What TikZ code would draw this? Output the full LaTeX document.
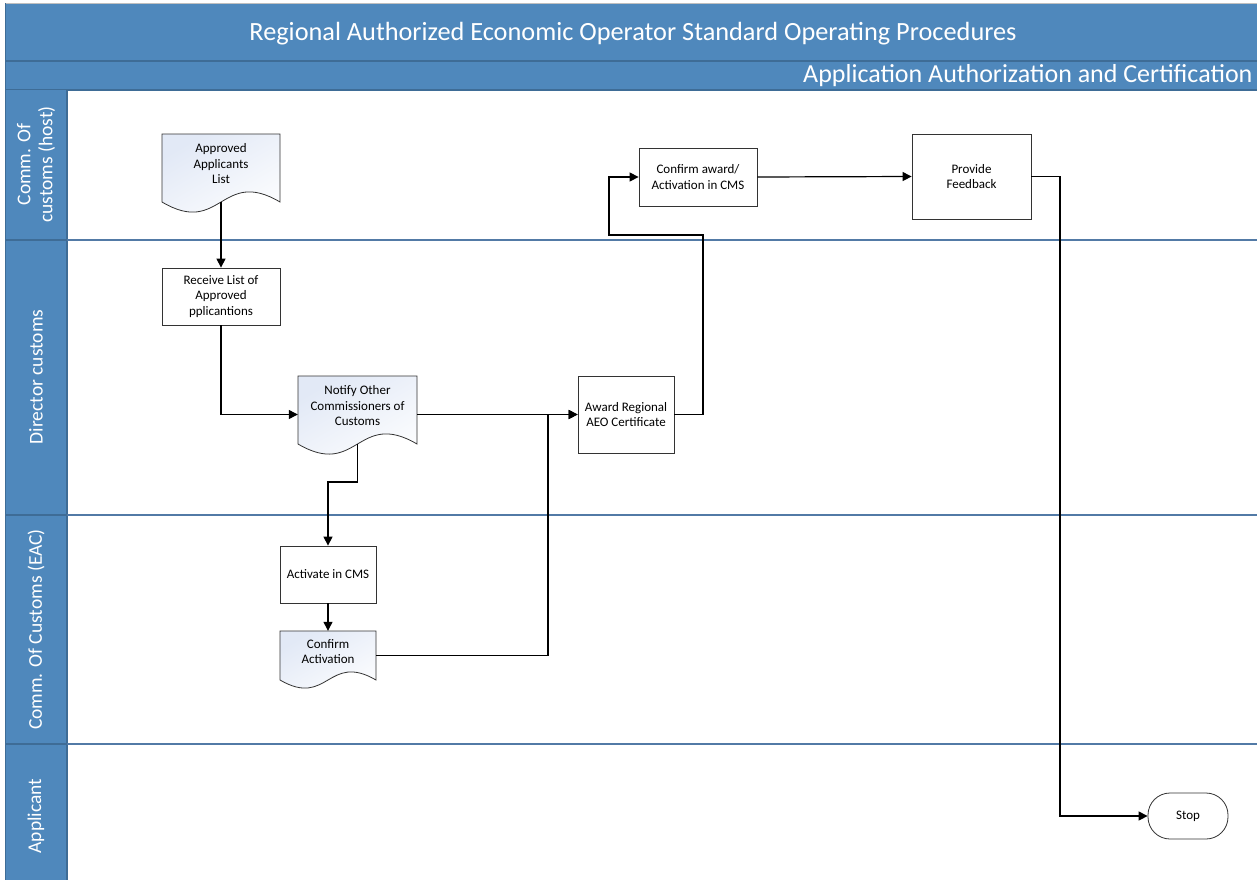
\documentclass[tikz,border=0pt]{standalone}
\usepackage{fontspec}
\setmainfont{Carlito}
\usetikzlibrary{arrows.meta,calc}
\definecolor{hdrblue}{RGB}{79,136,188}
\definecolor{hdrline}{RGB}{62,108,150}
\definecolor{laneline}{RGB}{82,122,166}
\definecolor{docblue}{RGB}{226,233,246}
\tikzset{
  nodefont/.style={font=\fontsize{13}{15.5}\selectfont},
  boxnode/.style={draw=black!80, line width=0.8pt, fill=white, align=center,
    nodefont, inner sep=2pt},
  docnode/.style={draw=none, inner sep=0pt},
  doctext/.style={align=center, nodefont, inner sep=1pt},
  docfill/.style={draw=black!80, line width=0.8pt, top color=docblue, bottom color=white, shading angle=30},
  lanelbl/.style={text=white, rotate=90, align=center, font=\fontsize{19.5}{22}\selectfont},
  arr/.style={line width=1.2pt, -{Triangle[length=9pt,width=9pt]}},
  laneln/.style={laneline, line width=1.5pt},
}
\newcommand{\docnode}[7]{%
  \path[docfill] (#2-#4/2,#3-#5/2) -- (#2+#4/2,#3-#5/2) -- (#2+#4/2,#3+#5/2)
    .. controls (#2,#3+#5/2-#6) and (#2,#3+#5/2+#6) .. (#2-#4/2,#3+#5/2) -- cycle;
  \node[docnode, minimum width=#4, minimum height=#5] (#1) at (#2,#3) {};
  \node[doctext] (#1-txt) at (#2,#3-4) {#7};}
\begin{document}
\begin{tikzpicture}[x=1pt,y=-1pt]
\useasboundingbox (0,0) rectangle (1257,881);
\fill[white] (0,0) rectangle (1257,881);
% header
\fill[hdrblue] (5,3) rectangle (1257,90);
\draw[black!25, line width=0.8pt] (5,3) -- (1257,3);
\draw[hdrline, line width=1.2pt] (5,61) -- (1257,61);
\draw[hdrline, line width=1.2pt] (5,90) -- (1257,90);
% lane label column
\fill[hdrblue] (5,90) rectangle (67,880);
\draw[hdrline, line width=1.2pt] (67,90) -- (67,880);
\draw[hdrline, line width=1pt] (5,3) -- (5,880);
\foreach \yy in {240,515,744}{
  \draw[hdrline, line width=1.2pt] (5,\yy) -- (67,\yy);
  \draw[laneln] (67,\yy) -- (1257,\yy);
}
\node[text=white, font=\fontsize{26.3}{30}\selectfont] (title) at (633,34) {Regional Authorized Economic Operator Standard Operating Procedures};
\node[text=white, anchor=east, font=\fontsize{26}{30}\selectfont] (subtitle) at (1256,76) {Application Authorization and Certification};
\node[lanelbl] (lane1) at (36,164.5) {Comm. Of\\customs (host)};
\node[lanelbl] (lane2) at (36,377) {Director customs};
\node[lanelbl] (lane3) at (36,629.5) {Comm. Of Customs (EAC)};
\node[lanelbl] (lane4) at (36,816) {Applicant};
% nodes
\docnode{appr}{221}{168}{118}{68}{35}{Approved\\Applicants\\List}
\node[boxnode, minimum width=118, minimum height=57] (recv) at (221,296.5) {Receive List of\\Approved\\pplicantions};
\docnode{notify}{357.5}{410}{119}{68}{35}{Notify Other\\Commissioners of\\Customs}
\node[boxnode, minimum width=96, minimum height=57] (activ) at (328,574.5) {Activate in CMS};
\docnode{confact}{328}{655.5}{96}{49}{28}{Confirm\\Activation}
\node[boxnode, minimum width=96, minimum height=77] (award) at (626,414.5) {Award Regional\\AEO Certificate};
\node[boxnode, minimum width=118, minimum height=58] (confaw) at (698,177) {Confirm award/\\Activation in CMS};
\node[boxnode, minimum width=119, minimum height=85] (feedback) at (971.5,176.5) {Provide\\Feedback};
\node[boxnode, minimum width=80, minimum height=46, rounded corners=22pt] (stop) at (1188,816) {Stop};
% helper coordinates
\coordinate (k1) at (328,482);
\coordinate (j1) at (548,414.5);
\coordinate (b1) at (703,235);
\coordinate (b2) at (609,177);
\coordinate (c1) at (1060,816);
% connectors
\draw[arr] (appr.south) -- (recv.north);
\draw[arr] (recv.south) |- (notify.west |- award.west);
\draw[arr] (notify.east |- award.west) -- (award.west);
\draw[arr] (notify.south) |- (k1) -- (activ.north);
\draw[arr] (activ.south) -- (confact.north);
\draw[arr] (confact.east) -| (j1) -- (award.west);
\draw[arr] (award.east) -| (b1) -| (b2) -- (confaw.west);
\draw[arr] (confaw.east) -- (feedback.west);
\draw[arr] (feedback.east) -| (c1) -- (stop.west);
\end{tikzpicture}
\end{document}
